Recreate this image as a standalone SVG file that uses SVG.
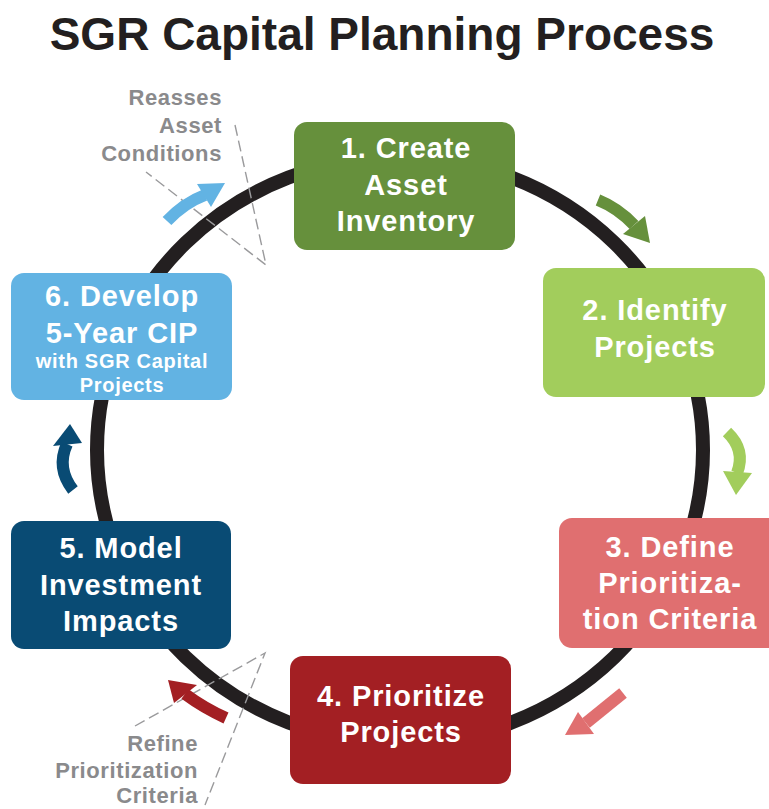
<svg xmlns="http://www.w3.org/2000/svg" width="769" height="809" viewBox="0 0 769 809">
<style>
.t{font-family:"Liberation Sans",Arial,sans-serif;font-weight:bold;fill:#fff;font-size:29px;letter-spacing:0.9px;text-anchor:middle}
.s{font-size:20px;letter-spacing:0.7px}
.g{font-family:"Liberation Sans",Arial,sans-serif;font-weight:bold;fill:#8a8a8c;font-size:22px;letter-spacing:0.6px;text-anchor:end}
.d{fill:none;stroke:#9a9a9c;stroke-width:1.4;stroke-dasharray:11 5}
.sh{fill:none;stroke-width:12}
</style>
<rect width="769" height="809" fill="#fff"/>
<text x="382" y="50" font-family="Liberation Sans,Arial,sans-serif" font-weight="bold" font-size="46" fill="#231f20" text-anchor="middle">SGR Capital Planning Process</text>
<g id="connectors">
<ellipse cx="400" cy="450" rx="303" ry="293" fill="none" stroke="#231f20" stroke-width="14"/>
<path class="d" d="M235,125 L266,265 L146,172"/>
<path class="d" d="M135,726 L265,653 L205,805"/>
<path class="sh" stroke="#62b3e3" d="M167,221 Q184,203 205,195"/>
<polygon fill="#62b3e3" points="197,184 225,183 211,207"/>
<path class="sh" stroke="#66903c" d="M598,200 Q618,208 634,225"/>
<polygon fill="#66903c" points="623,234 645,216 650,243"/>
<path class="sh" stroke="#a2cd5c" d="M727,432 Q746,450 737,473"/>
<polygon fill="#a2cd5c" points="723,471 752,473 736,495"/>
<path class="sh" stroke="#e06f70" d="M623,693 Q602,710 586,723"/>
<polygon fill="#e06f70" points="578,712 594,734 565,735"/>
<path class="sh" stroke="#a31f23" d="M226,718 Q204,708 185,694"/>
<polygon fill="#a31f23" points="174,703 197,685 168,680"/>
<path class="sh" stroke="#094b74" d="M73,490 Q56,468 67,444"/>
<polygon fill="#094b74" points="53,446 82,443 70,424"/>
</g>
<g id="label-reasses">
<text class="g" x="222" y="105">Reasses</text>
<text class="g" x="222" y="133">Asset</text>
<text class="g" x="222" y="161">Conditions</text>
</g>
<g id="label-refine">
<text class="g" x="198" y="751">Refine</text>
<text class="g" x="198" y="778">Prioritization</text>
<text class="g" x="198" y="803">Criteria</text>
</g>
<g id="node1">
<rect x="294" y="122" width="221" height="128" rx="13" fill="#66903c"/>
<text class="t" x="406" y="158">1. Create</text>
<text class="t" x="406" y="195">Asset</text>
<text class="t" x="406" y="231">Inventory</text>
</g>
<g id="node2">
<rect x="543" y="268" width="222" height="129" rx="13" fill="#a2cd5c"/>
<text class="t" x="655" y="320">2. Identify</text>
<text class="t" x="655" y="357">Projects</text>
</g>
<g id="node3">
<rect x="559" y="518" width="222" height="130" rx="13" fill="#e06f70"/>
<text class="t" x="670" y="557">3. Define</text>
<text class="t" x="670" y="593">Prioritiza-</text>
<text class="t" x="670" y="629">tion Criteria</text>
</g>
<g id="node4">
<rect x="290" y="656" width="221" height="128" rx="13" fill="#a31f23"/>
<text class="t" x="401" y="706">4. Prioritize</text>
<text class="t" x="401" y="742">Projects</text>
</g>
<g id="node5">
<rect x="11" y="521" width="220" height="128" rx="13" fill="#094b74"/>
<text class="t" x="121" y="558">5. Model</text>
<text class="t" x="121" y="595">Investment</text>
<text class="t" x="121" y="631">Impacts</text>
</g>
<g id="node6">
<rect x="11" y="273" width="221" height="127" rx="13" fill="#62b3e3"/>
<text class="t" x="122" y="306">6. Develop</text>
<text class="t" x="122" y="343">5-Year CIP</text>
<text class="t s" x="122" y="368">with SGR Capital</text>
<text class="t s" x="122" y="392">Projects</text>
</g>
</svg>
